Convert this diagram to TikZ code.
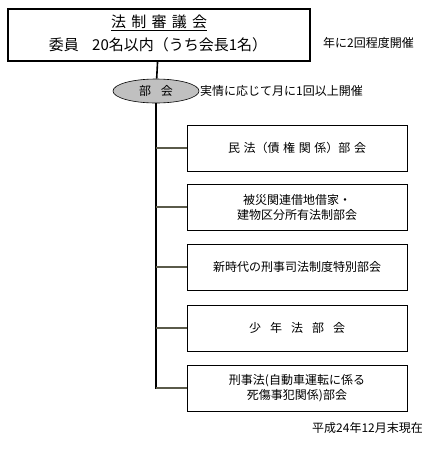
\documentclass[tikz,border=0pt]{standalone}
\usepackage{fontspec}
\setmainfont{Noto Sans CJK JP}
\usetikzlibrary{shapes.geometric}
\definecolor{branchgray}{HTML}{5A5A4A}
\definecolor{ovalgray}{HTML}{C0C0C0}

\begin{document}
\begin{tikzpicture}[x=1pt, y=-1pt,
    every node/.style={font=\fontsize{12}{15}\selectfont, inner sep=0pt},
    topbox/.style={rectangle, draw=black, line width=1.6pt, fill=white,
        minimum width=302pt, minimum height=52pt, align=center},
    subbox/.style={rectangle, draw=black, line width=0.8pt, fill=white,
        minimum width=220pt, minimum height=46pt, align=center},
    oval/.style={ellipse, draw=black, line width=0.6pt, fill=ovalgray,
        minimum width=86pt, minimum height=24pt},
    note/.style={anchor=west},
]
\useasboundingbox (0,0) rectangle (436,456);

% Council
\node[topbox] (council) at (159,35) {};
\node (title) at (159,23) {\fontsize{15}{18}\selectfont\underline{法\hspace{0.35em}制\hspace{0.35em}審\hspace{0.35em}議\hspace{0.35em}会}};
\node (members) at (158,45) {\fontsize{15}{18}\selectfont 委員\hspace{0.9em}20名以内（うち会長1名）};
\node[note] (yearly) at (323,43) {年に2回程度開催};

% Subcommittee oval
\node[oval] (bukai) at (156,91) {部\hspace{0.8em}会};
\node[note] (monthly) at (200,91) {実情に応じて月に1回以上開催};
\draw[line width=1.6pt] (council) -- (bukai);

% Subcommittees
\node[subbox] (minpo) at (297,148) {民\hspace{0.3em}法（債\hspace{0.3em}権\hspace{0.3em}関\hspace{0.3em}係）部\hspace{0.3em}会};
\node[subbox] (hisai) at (297,207) {被災関連借地借家・\\建物区分所有法制部会};
\node[subbox] (keiji) at (297,267) {新時代の刑事司法制度特別部会};
\node[subbox] (shonen) at (297,328) {少\hspace{0.75em}年\hspace{0.75em}法\hspace{0.75em}部\hspace{0.75em}会};
\node[subbox] (jidosha) at (297,388) {刑事法(自動車運転に係る\\死傷事犯関係)部会};

\coordinate (trunkend) at (156,389);
\draw[line width=1.6pt] (bukai) -- (trunkend);
\foreach \b in {minpo,hisai,keiji,shonen,jidosha}
    \draw[branchgray, line width=1.2pt] (\b.west) -- (\b.west -| trunkend);

% Date
\node[note] (asof) at (312,428) {平成24年12月末現在};
\end{tikzpicture}
\end{document}
